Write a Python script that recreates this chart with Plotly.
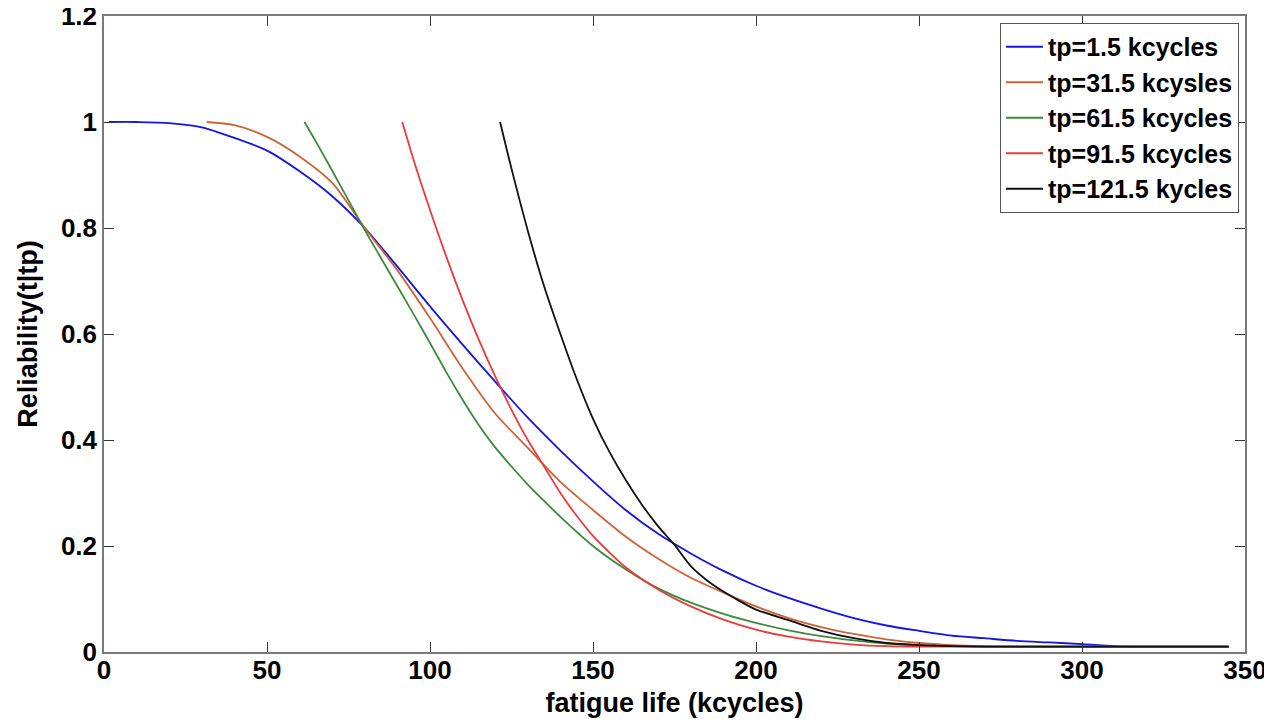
import plotly.graph_objects as go

# ---- data ----
labels = ["tp=1.5 kcycles", "tp=31.5 kcysles", "tp=61.5 kcycles",
          "tp=91.5 kcycles", "tp=121.5 kycles"]
colors = ["#1414E6", "#CC6436", "#3C8A3C", "#EC3B3B", "#111111"]

t_tp1 = [1.5, 10, 20, 30, 40, 50, 60, 70, 80, 90, 100, 110, 120, 130, 140,
         150, 160, 170, 180, 190, 200, 210, 220, 230, 240, 250, 260, 270, 280,
         290, 300, 310, 320, 345]
r_tp1 = [1.0, 1.0, 0.998, 0.99, 0.97, 0.946, 0.907, 0.86, 0.80, 0.727, 0.652,
         0.58, 0.51, 0.442, 0.38, 0.322, 0.268, 0.223, 0.186, 0.153, 0.125,
         0.102, 0.082, 0.064, 0.05, 0.04, 0.031, 0.026, 0.021, 0.018, 0.015,
         0.011, 0.01, 0.01]

t_tp31 = [31.5, 40, 50, 60, 70, 80, 90, 100, 110, 120, 130, 140, 150, 160,
          170, 180, 190, 200, 210, 220, 230, 240, 250, 260, 270, 280, 345]
r_tp31 = [1.0, 0.994, 0.972, 0.935, 0.885, 0.80, 0.72, 0.63, 0.535, 0.45,
          0.385, 0.321, 0.268, 0.218, 0.176, 0.14, 0.112, 0.086, 0.064, 0.047,
          0.034, 0.024, 0.017, 0.013, 0.011, 0.01, 0.01]

t_tp61 = [61.5, 65, 70, 75, 80, 85, 90, 95, 100, 105, 110, 115, 120, 125, 130,
          135, 140, 150, 160, 170, 180, 190, 200, 210, 220, 230, 240, 250, 260,
          270, 345]
r_tp61 = [1.0, 0.963, 0.908, 0.852, 0.796, 0.743, 0.69, 0.637, 0.583, 0.528,
          0.476, 0.428, 0.386, 0.35, 0.316, 0.285, 0.255, 0.2, 0.156, 0.12,
          0.093, 0.072, 0.055, 0.041, 0.03, 0.022, 0.016, 0.013, 0.011, 0.01,
          0.01]

t_tp91 = [91.5, 95, 100, 105, 110, 115, 120, 125, 130, 135, 140, 145, 150, 155,
          160, 170, 180, 190, 200, 210, 220, 230, 240, 250, 345]
r_tp91 = [1.0, 0.928, 0.834, 0.746, 0.664, 0.589, 0.52, 0.457, 0.4, 0.35,
          0.3, 0.257, 0.219, 0.188, 0.16, 0.118, 0.086, 0.061, 0.042, 0.029,
          0.02, 0.014, 0.011, 0.01, 0.01]

t_tp121 = [121.5, 125, 130, 135, 140, 145, 150, 155, 160, 165, 170, 175, 180,
           185, 190, 195, 200, 210, 220, 230, 240, 250, 260, 270, 345]
r_tp121 = [1.0, 0.912, 0.795, 0.69, 0.6, 0.515, 0.44, 0.378, 0.325, 0.278,
           0.237, 0.202, 0.162, 0.135, 0.114, 0.096, 0.08, 0.06, 0.04, 0.026,
           0.017, 0.013, 0.011, 0.01, 0.01]

series_t = [t_tp1, t_tp31, t_tp61, t_tp91, t_tp121]
series_r = [r_tp1, r_tp31, r_tp61, r_tp91, r_tp121]

x_ticks = [0, 50, 100, 150, 200, 250, 300, 350]
y_ticks = [0, 0.2, 0.4, 0.6, 0.8, 1, 1.2]
y_ticktext = ["0", "0.2", "0.4", "0.6", "0.8", "1", "1.2"]

FONT = "Liberation Sans, Arial, Helvetica, sans-serif"

fig = go.Figure()
for t, r, name, c in zip(series_t, series_r, labels, colors):
    fig.add_trace(go.Scatter(
        x=t, y=r, mode="lines", name=name,
        line=dict(color=c, width=1.8, shape="spline", smoothing=0.8),
    ))

axis_common = dict(
    showgrid=False, zeroline=False, automargin=False,
    showline=True, linecolor="#7a7a7a", linewidth=1.5, mirror="ticks",
    ticks="inside", ticklen=10, tickwidth=1, tickcolor="#333333",
    ticklabeloverflow="allow",
    tickfont=dict(family=FONT, size=26, color="black", weight="bold"),
)

fig.update_xaxes(
    range=[0, 350], tickmode="array", tickvals=x_ticks,
    ticklabelstandoff=-6,
    title=dict(text="fatigue life (kcycles)", standoff=9,
               font=dict(family=FONT, size=27, color="black", weight="bold")),
    **axis_common,
)
fig.update_yaxes(
    range=[0, 1.2], tickmode="array", tickvals=y_ticks, ticktext=y_ticktext,
    title=dict(text="Reliability(t|tp)", standoff=15,
               font=dict(family=FONT, size=27, color="black", weight="bold")),
    **axis_common,
)

# page body keeps an 8px margin, so the figure is 16px smaller than the window
fig.update_layout(
    width=1256, height=712,
    margin=dict(l=96, r=19, t=8, b=68),
    paper_bgcolor="white", plot_bgcolor="white",
    showlegend=True,
    legend=dict(
        x=0.9947, y=0.989, xanchor="right", yanchor="top",
        bgcolor="white", bordercolor="#555555", borderwidth=1,
        font=dict(family=FONT, size=25, color="black", weight="bold"),
        itemwidth=37, tracegroupgap=0,
    ),
)

fig.write_html("out.html")
